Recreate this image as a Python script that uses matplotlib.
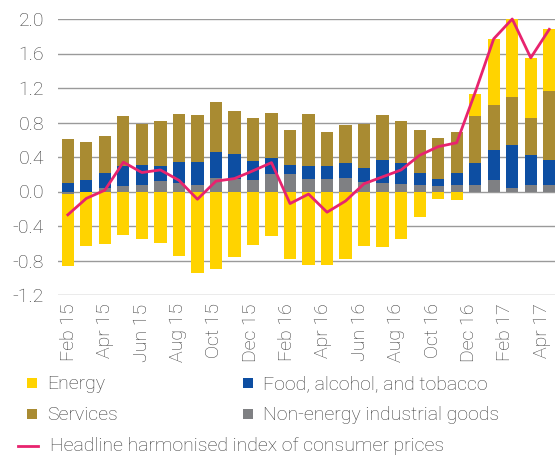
import numpy as np
import matplotlib
matplotlib.use("Agg")
import matplotlib.pyplot as plt
from matplotlib.patches import Rectangle
from matplotlib.lines import Line2D

plt.rcParams['font.family'] = ['Roboto', 'DejaVu Sans']

months = ["Feb 15", "Mar 15", "Apr 15", "May 15", "Jun 15", "Jul 15", "Aug 15", "Sep 15",
          "Oct 15", "Nov 15", "Dec 15", "Jan 16", "Feb 16", "Mar 16", "Apr 16", "May 16",
          "Jun 16", "Jul 16", "Aug 16", "Sep 16", "Oct 16", "Nov 16", "Dec 16", "Jan 17",
          "Feb 17", "Mar 17", "Apr 17"]

non_energy = [-0.03, 0.0, 0.035, 0.06, 0.08, 0.12, 0.10, 0.08, 0.16, 0.15, 0.13, 0.20, 0.20, 0.14,
              0.14, 0.155, 0.11, 0.10, 0.09, 0.08, 0.065, 0.08, 0.08, 0.13, 0.045, 0.08, 0.08]
food = [0.10, 0.13, 0.185, 0.24, 0.23, 0.18, 0.24, 0.26, 0.30, 0.28, 0.225, 0.19, 0.11, 0.15,
        0.16, 0.175, 0.16, 0.26, 0.24, 0.13, 0.08, 0.13, 0.25, 0.35, 0.495, 0.34, 0.29]
services = [0.51, 0.44, 0.42, 0.57, 0.47, 0.52, 0.56, 0.545, 0.58, 0.505, 0.50, 0.515, 0.40, 0.61,
            0.385, 0.44, 0.51, 0.525, 0.49, 0.505, 0.48, 0.485, 0.55, 0.52, 0.55, 0.435, 0.80]
energy = [-0.83, -0.63, -0.61, -0.51, -0.545, -0.60, -0.75, -0.94, -0.90, -0.76, -0.62, -0.52,
          -0.785, -0.85, -0.85, -0.785, -0.63, -0.645, -0.545, -0.29, -0.09, -0.10,
          0.25, 0.77, 0.91, 0.695, 0.71]
headline = [-0.27, -0.08, 0.015, 0.34, 0.22, 0.25, 0.13, -0.09, 0.12, 0.15, 0.24, 0.335, -0.14,
            -0.03, -0.24, -0.11, 0.09, 0.17, 0.25, 0.42, 0.52, 0.565, 1.15, 1.77, 2.0, 1.55, 1.88]

yticks = [-1.2, -0.8, -0.4, 0.0, 0.4, 0.8, 1.2, 1.6, 2.0]

c_energy = "#FFD300"
c_services = "#A98B32"
c_food = "#0D4EA2"
c_grey = "#7F8083"
c_line = "#E8236E"
text_c = "#3C3C3C"

fig = plt.figure(figsize=(5.55, 4.59), dpi=100)
ax = fig.add_axes([58/555, 1-295/459, 497/555, 276/459])

x = np.arange(len(months))
series = [(non_energy, c_grey), (food, c_food), (services, c_services), (energy, c_energy)]
pos_base = np.zeros(len(x))
neg_base = np.zeros(len(x))
w = 0.66
for vals, col in series:
    v = np.array(vals, dtype=float)
    bottom = np.where(v >= 0, pos_base, neg_base)
    ax.bar(x, v, bottom=bottom, width=w, color=col, linewidth=0, zorder=2)
    pos_base = pos_base + np.where(v > 0, v, 0)
    neg_base = neg_base + np.where(v < 0, v, 0)

ax.plot(x, headline, color=c_line, linewidth=2.0, zorder=3, clip_on=False)

ax.set_xlim(-0.53, 26.31)
ax.set_ylim(-1.2, 2.0)
ax.set_yticks(yticks)
ax.set_yticklabels([f"{t:.1f}" for t in yticks])
# category labels in the reference are spaced slightly tighter than the bars
ax.set_xticks(x[::2] * 0.982 + 0.06)
ax.set_xticklabels(months[::2], rotation=90)
ax.tick_params(axis='both', length=0, labelsize=14, colors=text_c)
ax.tick_params(axis='y', pad=10)
ax.tick_params(axis='x', pad=6)
for lab in ax.get_xticklabels() + ax.get_yticklabels():
    lab.set_fontweight('light')
for s in ax.spines.values():
    s.set_visible(False)
ax.yaxis.grid(True, color="#9A9A9A", linewidth=1.0, zorder=0)
ax.set_axisbelow(True)

# legend
def sq(xp, yp, col):
    fig.add_artist(Rectangle((xp/555, 1-(yp+5)/459), 10/555, 10/459, transform=fig.transFigure,
                             color=col, linewidth=0))

def txt(xp, yp, s):
    fig.text(xp/555, 1-yp/459, s, fontsize=14, color=text_c, va='center', ha='left',
             fontweight='light')

sq(27, 383, c_energy); txt(47, 384, "Energy")
sq(243, 383, c_food); txt(263, 384, "Food, alcohol, and tobacco")
sq(27, 414, c_services); txt(47, 415, "Services")
sq(243, 414, c_grey); txt(263, 415, "Non-energy industrial goods")
fig.add_artist(Line2D([18/555, 38/555], [1-446/459, 1-446/459], transform=fig.transFigure,
                      color=c_line, linewidth=2.0))
txt(50, 446, "Headline harmonised index of consumer prices")

fig.savefig("out.png", dpi=100)
